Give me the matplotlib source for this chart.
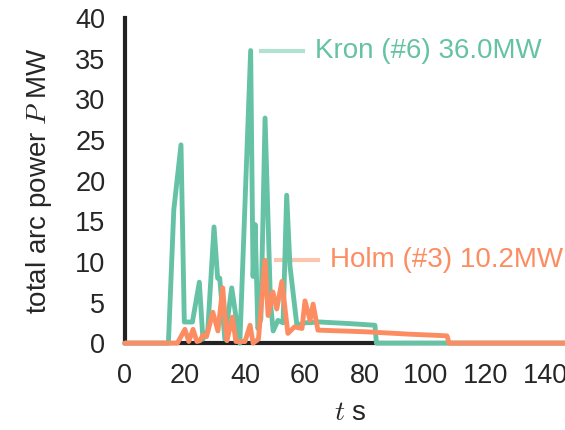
import numpy as np
import matplotlib.pyplot as plt

# time (s) and total arc power (MW)
kron_t = [0, 14.5, 16.3, 18.7, 19.8, 22.5, 24.8, 26.0, 27.6, 29.7, 30.9, 31.6,
          33.3, 35.6, 38.3, 41.9, 42.7, 43.4, 44.3, 45.3, 46.7, 48.5, 49.4,
          51.0, 52.7, 53.9, 55.0, 57.3, 60.0, 65.0, 75.0, 83.3, 83.8, 150]
kron_p = [0, 0, 16.4, 24.4, 2.6, 2.6, 7.5, 0.5, 1.5, 14.3, 8.0, 8.0,
          0.5, 6.8, 0.0, 36.0, 8.2, 14.6, 1.8, 3.0, 27.7, 5.0, 1.5,
          2.8, 2.5, 18.2, 9.5, 2.2, 2.5, 2.6, 2.4, 2.2, 0, 0]

holm_t = [0, 17.5, 20.0, 21.3, 22.7, 24.0, 25.0, 26.0, 27.2, 29.3, 31.0, 32.6,
          34.0, 35.8, 37.0, 40.0, 41.7, 42.7, 44.5, 46.7, 47.7, 49.3, 50.6,
          52.3, 54.3, 56.5, 59.0, 60.0, 61.7, 62.7, 64.3, 80.0, 95.0, 107.3,
          108.0, 150]
holm_p = [0, 0, 1.7, 0.2, 1.7, 0.2, 0.3, 1.0, 0.8, 3.8, 1.5, 6.8,
          0.3, 3.2, 0.2, 0.2, 2.2, 0.0, 0.5, 10.2, 3.4, 6.3, 4.2,
          7.6, 1.2, 2.0, 1.8, 5.2, 2.8, 4.8, 1.6, 1.4, 1.1, 0.9,
          0, 0]

series = [("Kron (#6)", kron_t, kron_p, "#66c2a5"),
          ("Holm (#3)", holm_t, holm_p, "#fc8d62")]

plt.rcParams["font.family"] = ["Liberation Sans", "DejaVu Sans"]
plt.rcParams["mathtext.fontset"] = "cm"

fig = plt.figure(figsize=(5.65, 4.3), dpi=100)
ax = fig.add_axes([0.221, 0.202, 0.797, 0.756])

for name, t, p, color in series:
    t = np.array(t)
    p = np.array(p)
    ax.plot(t, p, color=color, lw=3.5, zorder=3, clip_on=False,
            solid_joinstyle="round", solid_capstyle="round")
    # label line + text next to the peak
    i = np.argmax(p)
    ax.plot([t[i] + 3.5, t[i] + 17.5], [p[i], p[i]], color=color, lw=3, alpha=0.5)
    ax.text(t[i] + 21.5, p[i], f"{name} {p[i]:.1f}MW", color=color,
            fontsize=20, va="center", ha="left")

ax.set_xlim(0, 150)
ax.set_ylim(0, 40)
ax.set_xticks(np.arange(0, 141, 20))
ax.set_yticks(np.arange(0, 41, 5))
ax.tick_params(length=0, pad=14, labelsize=19.5, labelcolor="#262626")
ax.spines["top"].set_visible(False)
ax.spines["right"].set_visible(False)
for s in ["left", "bottom"]:
    ax.spines[s].set_linewidth(3)
    ax.spines[s].set_color("#222222")

ax.set_xlabel("$t$ s", fontsize=20, color="#262626", labelpad=8)
ax.set_ylabel("total arc power $P$ MW", fontsize=20, color="#262626", labelpad=15)

fig.savefig("out.png", dpi=100)
